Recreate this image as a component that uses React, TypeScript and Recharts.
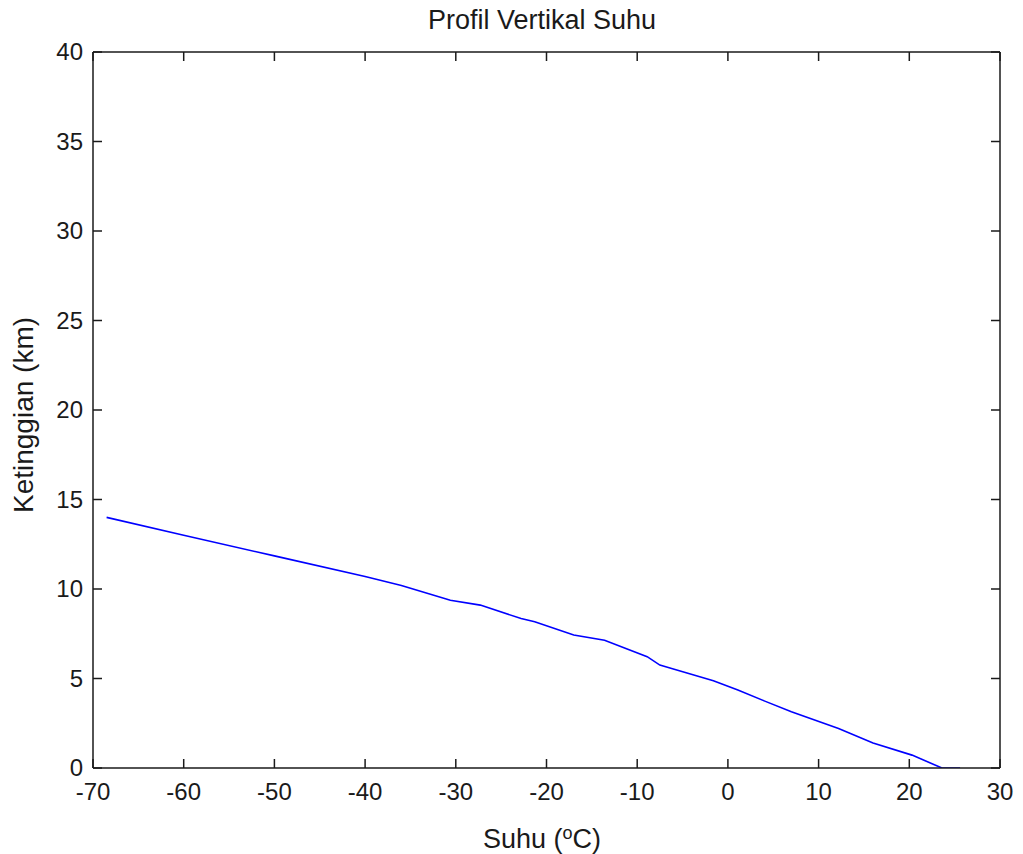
import React from "react";
import { LineChart, Line, XAxis, YAxis } from "recharts";

// temperature (°C) read along the profile, top of the trace down to the surface
const suhu = [
  -68.5, -60, -50, -40, -36, -30.6, -27.3, -22.8, -21.3, -17.0, -13.6,
  -8.9, -7.5, -6.2, -1.6, 1.1, 4.0, 7.0, 12.2, 16.0, 20.3, 23.6, 25.6,
];
// height (km) for each temperature above
const ketinggian = [
  14.0, 13.0, 11.85, 10.7, 10.2, 9.37, 9.1, 8.35, 8.17, 7.43, 7.14,
  6.22, 5.75, 5.56, 4.88, 4.36, 3.75, 3.14, 2.21, 1.4, 0.72, 0, 0,
];

const xTicks = [-70, -60, -50, -40, -30, -20, -10, 0, 10, 20, 30];
const yTicks = [0, 5, 10, 15, 20, 25, 30, 35, 40];

const data = suhu.map((s, i) => ({ suhu: s, km: ketinggian[i] }));

const FONT = "'Liberation Sans', Arial, sans-serif";
const INK = "#1a1a1a";
const TICK = 9;

const BottomTick = (props: any) => {
  const { x, y, payload } = props;
  return (
    <g>
      <line x1={x} y1={y} x2={x} y2={y - TICK} stroke={INK} strokeWidth={1.5} />
      <text x={x} y={y + 32} textAnchor="middle" fontFamily={FONT} fontSize={24} fill={INK}>
        {payload.value}
      </text>
    </g>
  );
};

const LeftTick = (props: any) => {
  const { x, y, payload } = props;
  return (
    <g>
      <line x1={x} y1={y} x2={x + TICK} y2={y} stroke={INK} strokeWidth={1.5} />
      <text x={x - 10} y={y + 8} textAnchor="end" fontFamily={FONT} fontSize={24} fill={INK}>
        {payload.value}
      </text>
    </g>
  );
};

const TopTick = (props: any) => {
  const { x, y } = props;
  return <line x1={x} y1={y} x2={x} y2={y + TICK} stroke={INK} strokeWidth={1.5} />;
};

const RightTick = (props: any) => {
  const { x, y } = props;
  return <line x1={x} y1={y} x2={x - TICK} y2={y} stroke={INK} strokeWidth={1.5} />;
};

export default function App() {
  return (
    <div style={{ width: 1023, height: 854, background: "#fff" }}>
      <style>{"body{margin:0}"}</style>
      <LineChart
        width={1023}
        height={854}
        data={data}
        margin={{ top: 51, right: 22, bottom: 0, left: 0 }}
      >
        <text x={542} y={29} textAnchor="middle" fontFamily={FONT} fontSize={27} fill={INK}>
          Profil Vertikal Suhu
        </text>
        <text
          x={0}
          y={0}
          transform="translate(33,415) rotate(-90)"
          textAnchor="middle"
          fontFamily={FONT}
          fontSize={28}
          fill={INK}
        >
          Ketinggian (km)
        </text>
        <text x={542} y={848} textAnchor="middle" fontFamily={FONT} fontSize={27} fill={INK}>
          Suhu (
          <tspan dy={-9} fontSize={18}>o</tspan>
          <tspan dy={9}>C)</tspan>
        </text>
        <XAxis
          xAxisId="bottom"
          dataKey="suhu"
          type="number"
          domain={[-70, 30]}
          ticks={xTicks}
          allowDataOverflow
          height={86}
          tickSize={0}
          tickMargin={0}
          tick={<BottomTick />}
          axisLine={{ stroke: INK, strokeWidth: 1.5 }}
          tickLine={false}
          interval={0}
        />
        <XAxis
          xAxisId="top"
          orientation="top"
          dataKey="suhu"
          type="number"
          domain={[-70, 30]}
          ticks={xTicks}
          allowDataOverflow
          height={1}
          tickSize={0}
          tickMargin={0}
          tick={<TopTick />}
          axisLine={{ stroke: INK, strokeWidth: 1.5 }}
          tickLine={false}
          interval={0}
        />
        <YAxis
          yAxisId="left"
          dataKey="km"
          type="number"
          domain={[0, 40]}
          ticks={yTicks}
          allowDataOverflow
          width={93}
          tickSize={0}
          tickMargin={0}
          tick={<LeftTick />}
          axisLine={{ stroke: INK, strokeWidth: 1.5 }}
          tickLine={false}
          interval={0}
        />
        <YAxis
          yAxisId="right"
          orientation="right"
          type="number"
          domain={[0, 40]}
          ticks={yTicks}
          allowDataOverflow
          width={1}
          tickSize={0}
          tickMargin={0}
          tick={<RightTick />}
          axisLine={{ stroke: INK, strokeWidth: 1.5 }}
          tickLine={false}
          interval={0}
        />
        <Line
          xAxisId="bottom"
          yAxisId="left"
          dataKey="km"
          type="linear"
          stroke="#0000ff"
          strokeWidth={1.6}
          dot={false}
          isAnimationActive={false}
        />
        <Line
          xAxisId="top"
          yAxisId="right"
          dataKey="km"
          type="linear"
          stroke="none"
          dot={false}
          legendType="none"
          isAnimationActive={false}
        />
      </LineChart>
    </div>
  );
}
